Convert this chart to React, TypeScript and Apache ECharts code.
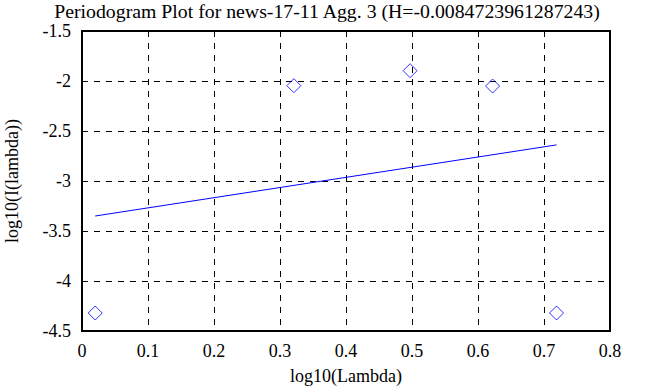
import React, { useEffect, useRef } from "react";
import * as echarts from "echarts";

const pointX = [0.02, 0.321, 0.4971, 0.6221, 0.719];
const pointY = [-4.32, -2.047, -1.897, -2.05, -4.32];
const fitX = [0.02, 0.719];
const fitY = [-3.35, -2.639];
const titleText = "Periodogram Plot for news-17-11 Agg. 3 (H=-0.0084723961287243)";

const FONT = "Liberation Serif";

export default function App() {
  const ref = useRef<HTMLDivElement>(null);
  useEffect(() => {
    if (!ref.current) return;
    const chart = echarts.init(ref.current, undefined, { renderer: "svg" });
    chart.setOption({
      animation: false,
      backgroundColor: "#fff",
      textStyle: { fontFamily: FONT },
      title: {
        text: titleText,
        left: 322,
        textAlign: "center",
        top: -4,
        textStyle: { fontFamily: FONT, fontSize: 19.8, fontWeight: "normal", color: "#000" },
      },
      grid: {
        left: 82,
        right: 53,
        top: 31,
        bottom: 56,
        outerBoundsMode: "none",
        containLabel: false,
        show: true,
        borderColor: "#000",
        borderWidth: 2,
        backgroundColor: "transparent",
      },
      xAxis: {
        type: "value",
        min: 0,
        max: 0.8,
        interval: 0.1,
        name: "log10(Lambda)",
        nameLocation: "middle",
        nameGap: 36,
        nameTextStyle: { fontFamily: FONT, fontSize: 18, color: "#000" },
        axisLine: { show: false },
        axisTick: { show: false },
        axisLabel: { fontFamily: FONT, fontSize: 18, color: "#000", margin: 11 },
        splitLine: { show: true, lineStyle: { color: "#000", type: [6, 6], width: 1 } },
      },
      yAxis: {
        type: "value",
        min: -4.5,
        max: -1.5,
        interval: 0.5,
        name: "log10(I(lambda))",
        nameLocation: "middle",
        nameGap: 61,
        nameTextStyle: { fontFamily: FONT, fontSize: 18, color: "#000" },
        axisLine: { show: false },
        axisTick: { show: false },
        axisLabel: { fontFamily: FONT, fontSize: 18, color: "#000", margin: 11 },
        splitLine: { show: true, lineStyle: { color: "#000", type: [6, 6], width: 1 } },
      },
      series: [
        {
          type: "scatter",
          data: pointX.map((x, i) => [x, pointY[i]]),
          symbol: "diamond",
          symbolSize: [14, 14],
          itemStyle: { color: "transparent", borderColor: "#0000ff", borderWidth: 1 },
          z: 3,
        },
        {
          type: "line",
          data: fitX.map((x, i) => [x, fitY[i]]),
          symbol: "none",
          lineStyle: { color: "#0000ff", width: 1 },
          z: 2,
        },
      ],
    });
    return () => chart.dispose();
  }, []);
  return <div ref={ref} style={{ width: 663, height: 387, position: "absolute", left: 0, top: 0 }} />;
}
